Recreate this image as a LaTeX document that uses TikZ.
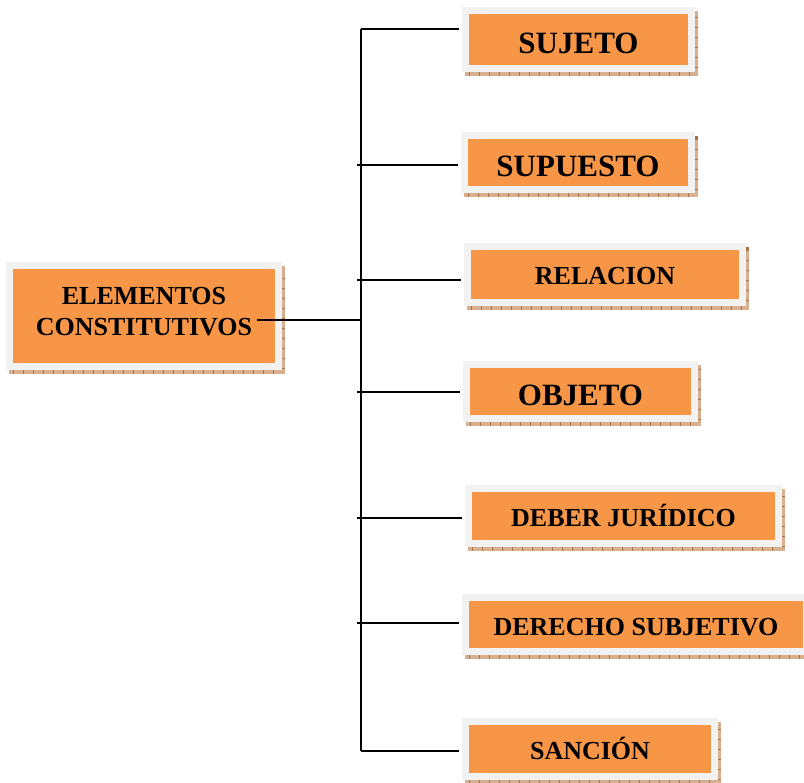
\documentclass[tikz,border=0pt]{standalone}
\usepackage{fontspec}
\setmainfont{Liberation Serif}
\usetikzlibrary{shadows}

\definecolor{boxorange}{HTML}{F79646}
\definecolor{boxframe}{HTML}{F2F2F2}
\definecolor{shadowtan}{HTML}{D9B08F}
\definecolor{shadowtick}{HTML}{A87548}

\tikzset{
  framebox/.style={draw=boxframe, fill=boxorange, line width=7pt, inner sep=0pt,
    align=center, font=\bfseries\fontsize{26}{31.5}\selectfont,
    general shadow={shadow xshift=3pt, shadow yshift=-4pt, fill=shadowtan, draw=shadowtan, line width=7pt},
    general shadow={shadow xshift=3pt, shadow yshift=-4pt, draw=shadowtick, line width=7pt, dash pattern=on 1pt off 9pt}},
  box/.style={framebox, text height=21pt, text depth=0pt},
  bigbox/.style={framebox, font=\bfseries\fontsize{31}{37}\selectfont, text height=29pt, text depth=0pt},
  link/.style={line width=2pt}
}

\begin{document}
\begin{tikzpicture}[x=1pt, y=-1pt]
        \useasboundingbox (0,0) rectangle (804,783);

        \node (elem)     [framebox, minimum width=269pt, minimum height=101pt] at (144,316)   {ELEMENTOS\\CONSTITUTIVOS\\[-22pt]\mbox{}};
        \node (sujeto)   [bigbox, minimum width=226pt, minimum height=58pt]    at (578.5,39.5) {SUJETO};
        \node (supuesto) [bigbox, minimum width=227pt, minimum height=54pt]    at (578,162.5)  {SUPUESTO};
        \node (relacion) [box, minimum width=275pt, minimum height=56pt]       at (605,274.5)  {RELACION};
        \node (objeto)   [bigbox, minimum width=228pt, minimum height=54pt]    at (580.5,391.5) {OBJETO};
        \node (deber)    [box, minimum width=310pt, minimum height=55pt]       at (623.5,516)  {DEBER JURÍDICO};
        \node (derecho)  [box, minimum width=341pt, minimum height=54pt]       at (636,624.5)  {DERECHO SUBJETIVO};
        \node (sancion)  [box, minimum width=249pt, minimum height=55pt]       at (590,749)    {SANCIÓN};

        \coordinate (stub) at (257,320);
        \coordinate (top)  at (361,29);
        \coordinate (bot)  at (361,751);

        \draw [link] (stub) -- (stub -| top);
        \draw [link] (top) -- (bot);
        \draw [link, shorten >=3pt] (top) -- (top -| sujeto.west);
        \draw [link, shorten >=3pt] (357,165) -- (supuesto.west |- 0,165);
        \draw [link, shorten >=3pt] (357,280) -- (relacion.west |- 0,280);
        \draw [link, shorten >=3pt] (357,392) -- (objeto.west |- 0,392);
        \draw [link, shorten >=3pt] (357,518) -- (deber.west |- 0,518);
        \draw [link, shorten >=3pt] (357,623) -- (derecho.west |- 0,623);
        \draw [link, shorten >=3pt] (bot) -- (bot -| sancion.west);
      \end{tikzpicture}
\end{document}
